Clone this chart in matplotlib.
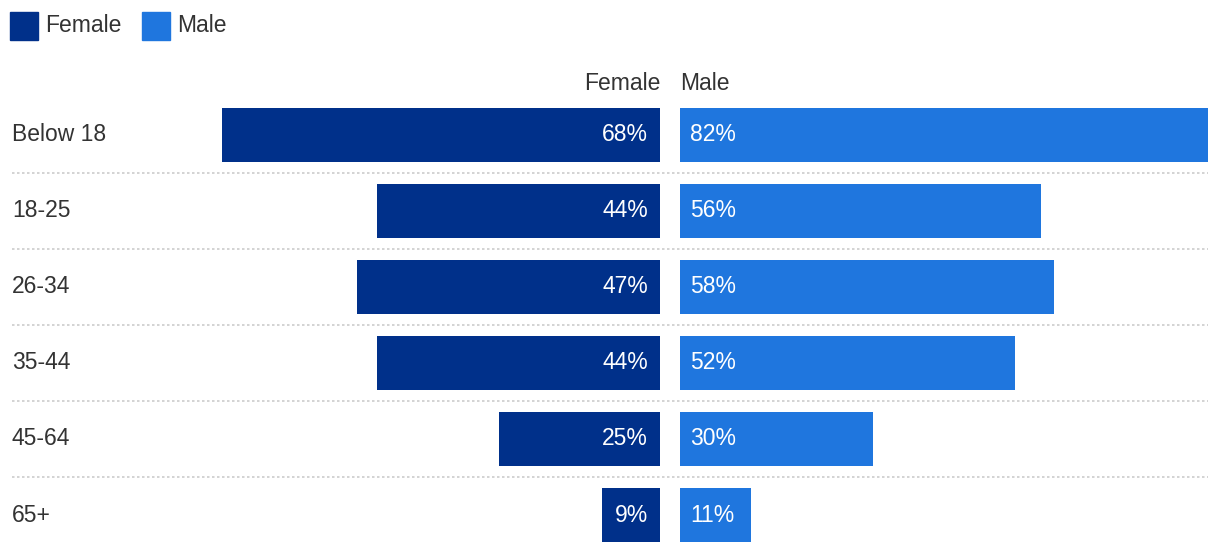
import matplotlib.pyplot as plt

groups = ['Below 18', '18-25', '26-34', '35-44', '45-64', '65+']
female = [68, 44, 47, 44, 25, 9]
male = [82, 56, 58, 52, 30, 11]

FEMALE_C = '#00308a'
MALE_C = '#1f76de'
TEXT_C = '#333333'
FS = 16.5
plt.rcParams['font.family'] = ['Liberation Sans', 'DejaVu Sans']

W, H = 1220, 552
PX = 6.44  # pixels per percent
TOP = 97

fig = plt.figure(figsize=(W / 100, H / 100), dpi=100)

def frac(x0, y0, x1, y1):
    # pixel box (top-left origin) -> figure fraction rect
    return [x0 / W, 1 - y1 / H, (x1 - x0) / W, (y1 - y0) / H]

rows = list(range(len(groups)))
rh = (H + 1 - TOP) / len(groups)

# background axes: labels and separators
bg = fig.add_axes(frac(0, TOP, W, H + 1))
bg.set_xlim(0, W)
bg.set_ylim(len(groups) - 0.5, -0.5)
bg.axis('off')
for i, g in enumerate(groups):
    bg.text(12, i, g, ha='left', va='center', fontsize=FS, color=TEXT_C)
for i in rows[:-1]:
    bg.plot([12, 1208], [i + 0.5, i + 0.5], color='#cccccc', lw=1.2,
            linestyle=(0, (1.5, 1.5)))

# female axes (inverted, ends at x=660)
axf = fig.add_axes(frac(0, TOP, 660, H + 1))
axf.set_xlim(660 / PX, 0)
axf.set_ylim(len(groups) - 0.5, -0.5)
axf.axis('off')
axf.barh(rows, female, height=54 / rh, color=FEMALE_C)
for i, v in enumerate(female):
    axf.text(12 / PX, i, f'{v}%', ha='right', va='center', fontsize=FS, color='white')

# male axes (starts at x=680)
axm = fig.add_axes(frac(680, TOP, W, H + 1))
axm.set_xlim(0, (W - 680) / PX)
axm.set_ylim(len(groups) - 0.5, -0.5)
axm.axis('off')
axm.barh(rows, male, height=54 / rh, color=MALE_C)
for i, v in enumerate(male):
    axm.text(10 / PX, i, f'{v}%', ha='left', va='center', fontsize=FS, color='white')

# column headers
fig.text(660 / W, 1 - 83 / H, 'Female', ha='right', va='center', fontsize=FS, color=TEXT_C)
fig.text(680 / W, 1 - 83 / H, 'Male', ha='left', va='center', fontsize=FS, color=TEXT_C)

# legend
for x, lab, c in [(10, 'Female', FEMALE_C), (142, 'Male', MALE_C)]:
    fig.patches.append(plt.Rectangle((x / W, 1 - 40 / H), 28 / W, 28 / H,
                                     transform=fig.transFigure, color=c))
    fig.text((x + 35) / W, 1 - 25 / H, lab, ha='left', va='center', fontsize=FS, color=TEXT_C)

fig.savefig('out.png', dpi=100)
